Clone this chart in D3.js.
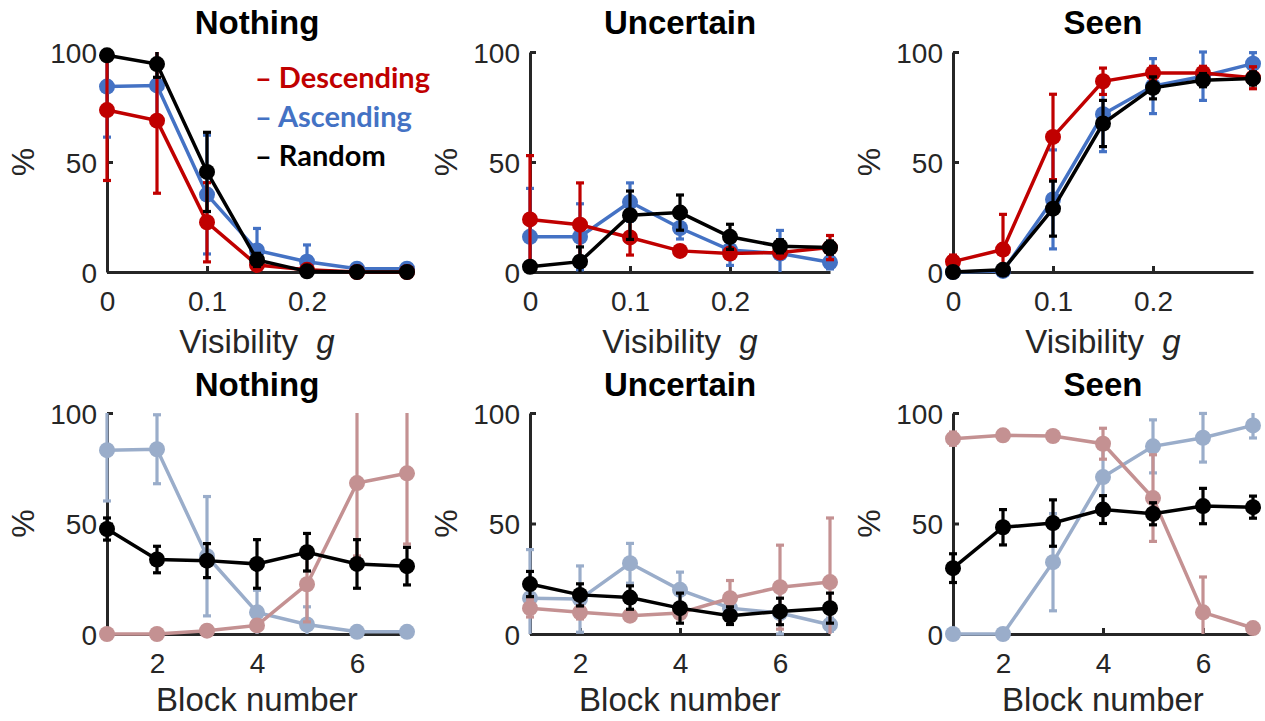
<!DOCTYPE html>
<html>
<head>
<meta charset="utf-8">
<script src="https://cdnjs.cloudflare.com/ajax/libs/d3/7.8.5/d3.min.js"></script>
<style>
  html, body { margin: 0; padding: 0; background: #fff; }
  svg { display: block; }
</style>
</head>
<body>
<svg id="chart" width="1265" height="721"></svg>
<script>
// ---------------- DATA ----------------
const visibility = [0, 0.05, 0.1, 0.15, 0.2, 0.25, 0.3];
const blocks = [1, 2, 3, 4, 5, 6, 7];
const visTicks = [0, 0.1, 0.2];
const blockTicks = [2, 4, 6];
const yTicks = [0, 50, 100];
const titles = ["Nothing", "Uncertain", "Seen"];
const seriesNames = ["Descending", "Ascending", "Random"];

// Top row: % vs visibility g
const visNothingDesc = [73.6, 68.8, 22.6, 3.2, 1, 0, 0];
const visNothingDescErr = [32, 33, 18, 1.5, 1, 0, 0];
const visNothingAsc = [84.3, 84.8, 35.2, 9.8, 4.7, 1.5, 1.5];
const visNothingAscErr = [23, 16, 27, 10, 7.6, 1, 1];
const visNothingRand = [98.5, 94.5, 45.5, 5.5, 0.3, 0, 0];
const visNothingRandErr = [2, 6, 18, 3, 0.5, 0, 0];

const visUncDesc = [23.9, 21.5, 15.7, 9.6, 8.4, 8.9, 11.1];
const visUncDescErr = [29, 19, 8, 2, 2, 2, 5.5];
const visUncAsc = [16, 16, 31.8, 20, 10, 8.4, 4.4];
const visUncAscErr = [22, 15, 8.7, 5, 7, 10.5, 3];
const visUncRand = [2.4, 4.7, 25.8, 27, 16, 11.7, 11.1];
const visUncRandErr = [2, 6.7, 11, 8, 5.7, 3, 3];

const visSeenDesc = [4.7, 10.2, 61.4, 86.7, 90.5, 90.5, 88.3];
const visSeenDescErr = [3, 16, 19.4, 6, 3, 3, 5];
const visSeenAsc = [0, 0.5, 33, 71.7, 84.5, 89, 94.7];
const visSeenAscErr = [0, 0.5, 22.5, 17, 12.5, 11, 5];
const visSeenRand = [0, 1, 28.8, 67.5, 83.7, 87.2, 88];
const visSeenRandErr = [0.5, 1, 12.5, 10.5, 5, 3, 3];

// Bottom row: % vs block number
const blockNothingDesc = [0, 0, 1.5, 3.9, 22.5, 68.3, 72.7];
const blockNothingDescErr = [0, 0, 1, 1.5, 17, 33, 32];
const blockNothingAsc = [83.2, 83.6, 35.2, 9.8, 4.3, 1, 1];
const blockNothingAscErr = [23, 15.6, 27, 10, 8, 0.5, 0.5];
const blockNothingRand = [47.5, 33.7, 33.2, 31.7, 37, 31.7, 30.7];
const blockNothingRandErr = [5, 6, 7.7, 11, 8.5, 11, 8.5];

const blockUncDesc = [11.7, 9.8, 8.3, 9.5, 16.2, 21.2, 23.5];
const blockUncDescErr = [4, 3, 2, 2, 8, 19, 29];
const blockUncAsc = [16.2, 15.8, 32, 20, 11.7, 9.5, 4.2];
const blockUncAscErr = [22, 15, 9, 8, 3, 9.5, 3];
const blockUncRand = [22.6, 17.7, 16.5, 11.7, 8.3, 10.2, 11.7];
const blockUncRandErr = [5.7, 5, 5.3, 6.8, 4, 6, 6.8];

const blockSeenDesc = [88.4, 89.9, 89.6, 86.1, 61.5, 9.8, 2.7];
const blockSeenDescErr = [3, 2, 2, 7, 19.6, 16, 2];
const blockSeenAsc = [0, 0, 32.5, 71, 84.9, 88.8, 94.4];
const blockSeenAscErr = [0, 0, 22, 17, 12, 11, 5.7];
const blockSeenRand = [29.8, 48.3, 50.2, 56.3, 54.4, 57.9, 57.4];
const blockSeenRandErr = [6.5, 8, 10.5, 6.3, 5, 8, 5];

// ---------------- STYLE / LAYOUT ----------------
const strongColors = { Descending: "#c00000", Ascending: "#4472c4", Random: "#000000" };
const fadedColors = { Descending: "#c49192", Ascending: "#9aadca", Random: "#000000" };
const axisColor = "#262626";
const colX = [107, 530, 953];
const plotW = 300;
const rows = [
  { y100: 52, y0: 272, xVals: visibility, xDomain: [0, 0.3], xTicks: visTicks,
    xFmt: d => d === 0 ? "0" : d3.format(".1f")(d), label: "vis", colors: strongColors,
    titleY: 34, tickY: 311, labelY: 353 },
  { y100: 413, y0: 634, xVals: blocks, xDomain: [1, 7], xTicks: blockTicks,
    xFmt: d3.format("d"), label: "block", colors: fadedColors,
    titleY: 396, tickY: 673, labelY: 711 }
];
const panelData = [
  [ // top
    [[visNothingDesc, visNothingDescErr], [visNothingAsc, visNothingAscErr], [visNothingRand, visNothingRandErr]],
    [[visUncDesc, visUncDescErr], [visUncAsc, visUncAscErr], [visUncRand, visUncRandErr]],
    [[visSeenDesc, visSeenDescErr], [visSeenAsc, visSeenAscErr], [visSeenRand, visSeenRandErr]]
  ],
  [ // bottom
    [[blockNothingDesc, blockNothingDescErr], [blockNothingAsc, blockNothingAscErr], [blockNothingRand, blockNothingRandErr]],
    [[blockUncDesc, blockUncDescErr], [blockUncAsc, blockUncAscErr], [blockUncRand, blockUncRandErr]],
    [[blockSeenDesc, blockSeenDescErr], [blockSeenAsc, blockSeenAscErr], [blockSeenRand, blockSeenRandErr]]
  ]
];
const drawOrder = [1, 0, 2]; // Ascending, Descending, Random (Random on top)

const svg = d3.select("#chart");
const tickFont = "'Liberation Sans', Arial, sans-serif";

rows.forEach((row, ri) => {
  colX.forEach((x0, ci) => {
    const x = d3.scaleLinear().domain(row.xDomain).range([x0, x0 + plotW]);
    const y = d3.scaleLinear().domain([0, 100]).range([row.y0, row.y100]);
    const g = svg.append("g");

    // Title
    g.append("text")
      .attr("x", x0 + plotW / 2).attr("y", row.titleY)
      .attr("text-anchor", "middle")
      .style("font-family", tickFont).style("font-weight", "bold").style("font-size", "33px")
      .attr("fill", "#000").text(titles[ci]);

    // Axes
    const yAxis = d3.axisLeft(y).tickValues(yTicks).tickSizeInner(-6).tickSizeOuter(0).tickPadding(10);
    const ya = g.append("g").attr("transform", `translate(${x0},0)`).call(yAxis);
    const xAxis = d3.axisBottom(x).tickValues(row.xTicks).tickFormat(row.xFmt)
      .tickSizeInner(-6).tickSizeOuter(0).tickPadding(0);
    const xa = g.append("g").attr("transform", `translate(0,${row.y0})`).call(xAxis);
    [ya, xa].forEach(a => {
      a.select(".domain").attr("stroke", axisColor).attr("stroke-width", 3);
      a.selectAll(".tick line").attr("stroke", axisColor).attr("stroke-width", 3);
      a.selectAll(".tick text").attr("fill", axisColor)
        .style("font-family", tickFont).style("font-size", "28px");
    });
    ya.selectAll(".tick text").attr("dy", "0.36em");
    xa.selectAll(".tick text").attr("dy", null).attr("y", row.tickY - row.y0);

    // Y label
    g.append("text")
      .attr("transform", `translate(${x0 - 84},${(row.y0 + row.y100) / 2}) rotate(-90)`)
      .attr("text-anchor", "middle").attr("dominant-baseline", "central")
      .attr("fill", axisColor)
      .style("font-family", tickFont).style("font-size", "32px").text("%");

    // X label
    const xl = g.append("text")
      .attr("x", x0 + plotW / 2).attr("y", row.labelY)
      .attr("text-anchor", "middle").attr("fill", axisColor)
      .style("font-family", tickFont).style("font-size", "33px")
      .attr("xml:space", "preserve");
    if (row.label === "vis") {
      xl.append("tspan").text("Visibility  ");
      xl.append("tspan").style("font-style", "italic").text("g");
    } else {
      xl.text("Block number");
    }

    // Series
    drawOrder.forEach(si => {
      const [vals, errs] = panelData[ri][ci][si];
      const color = row.colors[seriesNames[si]];
      const pts = row.xVals.map((xv, i) => ({ x: xv, y: vals[i], e: errs[i] }));
      const sg = g.append("g");
      // error bars
      pts.forEach(p => {
        const lo = Math.max(0, p.y - p.e), hi = Math.min(100, p.y + p.e);
        if (p.e <= 0) return;
        sg.append("line")
          .attr("x1", x(p.x)).attr("x2", x(p.x)).attr("y1", y(lo)).attr("y2", y(hi))
          .attr("stroke", color).attr("stroke-width", 3.2);
        if (p.y + p.e <= 100) {
          sg.append("line").attr("x1", x(p.x) - 4).attr("x2", x(p.x) + 4)
            .attr("y1", y(hi)).attr("y2", y(hi)).attr("stroke", color).attr("stroke-width", 3.2);
        }
        if (p.y - p.e >= 0) {
          sg.append("line").attr("x1", x(p.x) - 4).attr("x2", x(p.x) + 4)
            .attr("y1", y(lo)).attr("y2", y(lo)).attr("stroke", color).attr("stroke-width", 3.2);
        }
      });
      // line
      sg.append("path").datum(pts)
        .attr("d", d3.line().x(d => x(d.x)).y(d => y(d.y)))
        .attr("fill", "none").attr("stroke", color).attr("stroke-width", 3.5);
      // markers
      sg.selectAll("circle").data(pts).join("circle")
        .attr("cx", d => x(d.x)).attr("cy", d => y(d.y)).attr("r", 8)
        .attr("fill", color);
    });

    // Legend in first panel
    if (ri === 0 && ci === 0) {
      const legY = [88, 127, 166];
      seriesNames.forEach((name, i) => {
        g.append("text").attr("x", 255).attr("y", legY[i])
          .attr("fill", strongColors[name])
          .style("font-family", "Lato, 'Open Sans', sans-serif").style("font-weight", "bold")
          .style("font-size", "29px").text("\u2013 " + name);
      });
    }
  });
});
</script>
</body>
</html>
